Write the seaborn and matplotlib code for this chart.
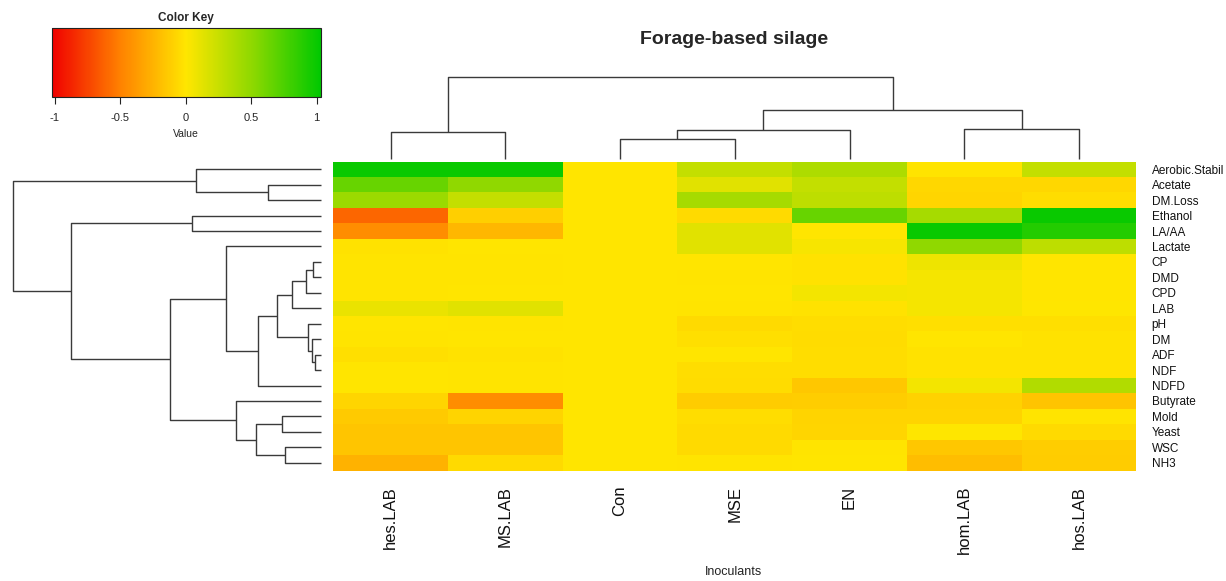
import numpy as np
import pandas as pd
import matplotlib
matplotlib.use("Agg")
import matplotlib.pyplot as plt
import seaborn as sns
from matplotlib.colors import LinearSegmentedColormap, Normalize
from matplotlib.cm import ScalarMappable

# ---------------- data ----------------
inoculants = ["hes.LAB", "MS.LAB", "Con", "MSE", "EN", "hom.LAB", "hos.LAB"]
variables = ["Aerobic.Stabil", "Acetate", "DM.Loss", "Ethanol", "LA/AA", "Lactate",
             "CP", "DMD", "CPD", "LAB", "pH", "DM", "ADF", "NDF", "NDFD",
             "Butyrate", "Mold", "Yeast", "WSC", "NH3"]

hes_lab = [1.00, 0.65, 0.45, -0.61, -0.44, -0.02, -0.01, -0.01, -0.01, 0.10,
           0.00, -0.01, -0.03, 0.00, 0.00, -0.08, -0.14, -0.16, -0.16, -0.26]
ms_lab = [1.00, 0.50, 0.27, -0.11, -0.23, 0.00, -0.01, -0.01, 0.00, 0.14,
          -0.01, 0.00, -0.02, -0.01, -0.01, -0.44, -0.09, -0.16, -0.16, -0.06]
con = [0.0] * 20
mse = [0.27, 0.14, 0.40, -0.06, 0.14, 0.14, 0.00, -0.01, 0.00, -0.01,
       -0.06, -0.03, 0.00, -0.04, -0.05, -0.13, -0.04, -0.06, -0.06, -0.01]
en = [0.37, 0.27, 0.30, 0.65, 0.00, 0.04, -0.02, -0.02, 0.06, -0.02,
      -0.04, -0.05, -0.04, -0.04, -0.15, -0.12, -0.09, -0.08, -0.01, 0.00]
hom_lab = [-0.01, -0.07, -0.08, 0.40, 1.00, 0.50, 0.08, 0.05, 0.05, 0.05,
           -0.03, 0.00, -0.02, -0.02, 0.06, -0.10, -0.09, 0.01, -0.15, -0.20]
hos_lab = [0.27, -0.07, -0.04, 1.00, 0.90, 0.30, 0.00, 0.00, 0.00, 0.01,
           -0.03, -0.02, -0.02, -0.02, 0.35, -0.17, -0.01, -0.06, -0.12, -0.13]

# column dendrogram (leaves 0..6 in display order; new nodes numbered from 7)
col_left = [0, 2, 8, 5, 9, 7]
col_right = [1, 3, 4, 6, 10, 11]
col_height = [27.0, 19.4, 28.4, 30.0, 48.7, 81.4]

# row dendrogram (leaves 0..19 in display order; new nodes numbered from 20)
row_left = [1, 0, 3, 6, 23, 24, 12, 11, 10, 25, 29, 5, 16, 18, 32, 15, 31, 22, 21]
row_right = [2, 20, 4, 7, 8, 9, 13, 26, 27, 28, 14, 30, 17, 19, 33, 34, 35, 36, 37]
row_height = [53.0, 125.3, 129.0, 8.3, 15.3, 28.7, 6.3, 8.7, 12.7, 44.0, 63.3, 95.0,
              39.3, 35.7, 65.3, 85.3, 151.0, 250.3, 308.3]

key_ticks = [-1, -0.5, 0, 0.5, 1]
key_labels = ["-1", "-0.5", "0", "0.5", "1"]

# ---------------- style ----------------
sns.set_style("white")
plt.rcParams["font.family"] = ["Liberation Sans", "DejaVu Sans"]

W, H = 1226, 581
fig = plt.figure(figsize=(W / 100, H / 100), dpi=100)


def box(x0, y0, x1, y1):
    return [x0 / W, 1 - y1 / H, (x1 - x0) / W, (y1 - y0) / H]


df = pd.DataFrame({"hes.LAB": hes_lab, "MS.LAB": ms_lab, "Con": con, "MSE": mse,
                   "EN": en, "hom.LAB": hom_lab, "hos.LAB": hos_lab}, index=variables)
df = df[inoculants]

cmap = LinearSegmentedColormap.from_list("ryg", ["#F00000", "#FF8000", "#FFE600", "#8CD800", "#00C800"])
norm = Normalize(vmin=-1.025, vmax=1.033)

# heatmap
ax_hm = fig.add_axes(box(333.3, 161.5, 1136.3, 470.5))
sns.heatmap(df, ax=ax_hm, cmap=cmap, vmin=-1.025, vmax=1.033, cbar=False,
            xticklabels=True, yticklabels=True, linewidths=0)
ax_hm.yaxis.tick_right()
ax_hm.set_yticklabels(variables, rotation=0, fontsize=8.5, color="#111111")
ax_hm.set_xticklabels(inoculants, rotation=90, fontsize=12, color="#111111", va="top")
ax_hm.tick_params(axis="both", length=0)
ax_hm.tick_params(axis="x", pad=11)
ax_hm.tick_params(axis="y", pad=11)
ax_hm.set_xlabel("")
ax_hm.set_ylabel("")
for s in ax_hm.spines.values():
    s.set_visible(False)


def dendro_coords(n, left, right, height):
    pos = {i: i + 0.5 for i in range(n)}
    hgt = {i: 0.0 for i in range(n)}
    segs = []
    for k, (a, b, h) in enumerate(zip(left, right, height)):
        node = n + k
        segs.append(((pos[a], pos[a], pos[b], pos[b]), (hgt[a], h, h, hgt[b])))
        pos[node] = (pos[a] + pos[b]) / 2
        hgt[node] = h
    return segs


line_kw = dict(color="#3a3a3a", lw=1.0, clip_on=False, solid_capstyle="butt")

# column dendrogram
ax_cd = fig.add_axes(box(333.3, 77.3, 1136.3, 158.7))
for xs, ys in dendro_coords(len(inoculants), col_left, col_right, col_height):
    ax_cd.plot(xs, ys, **line_kw)
ax_cd.set_xlim(0, len(inoculants))
ax_cd.set_ylim(0, max(col_height))
ax_cd.axis("off")

# row dendrogram
ax_rd = fig.add_axes(box(12.7, 161.5, 321.0, 470.5))
for ps, hs in dendro_coords(len(variables), row_left, row_right, row_height):
    ax_rd.plot(hs, ps, **line_kw)
ax_rd.set_ylim(len(variables), 0)
ax_rd.set_xlim(max(row_height), 0)
ax_rd.axis("off")

# color key
ax_key = fig.add_axes(box(51.7, 28.3, 321.0, 97.3))
cb = fig.colorbar(ScalarMappable(norm=norm, cmap=cmap), cax=ax_key, orientation="horizontal")
cb.set_ticks(key_ticks)
cb.set_ticklabels(key_labels)
cb.outline.set_linewidth(0.8)
cb.outline.set_edgecolor("#222222")
ax_key.tick_params(axis="x", length=5, width=0.8, labelsize=8, pad=6, color="#222222")
fig.text(186 / W, 1 - 18 / H, "Color Key", ha="center", va="center", fontsize=8.5,
         fontweight="bold")
fig.text(186 / W, 1 - 134 / H, "Value", ha="center", va="center", fontsize=7.5)

# titles
fig.text(734 / W, 1 - 40 / H, "Forage-based silage", ha="center", va="center",
         fontsize=14, fontweight="bold")
fig.text(734 / W, 1 - 572 / H, "Inoculants", ha="center", va="center", fontsize=9,
         color="#222222")

fig.savefig("out.png", dpi=100)
